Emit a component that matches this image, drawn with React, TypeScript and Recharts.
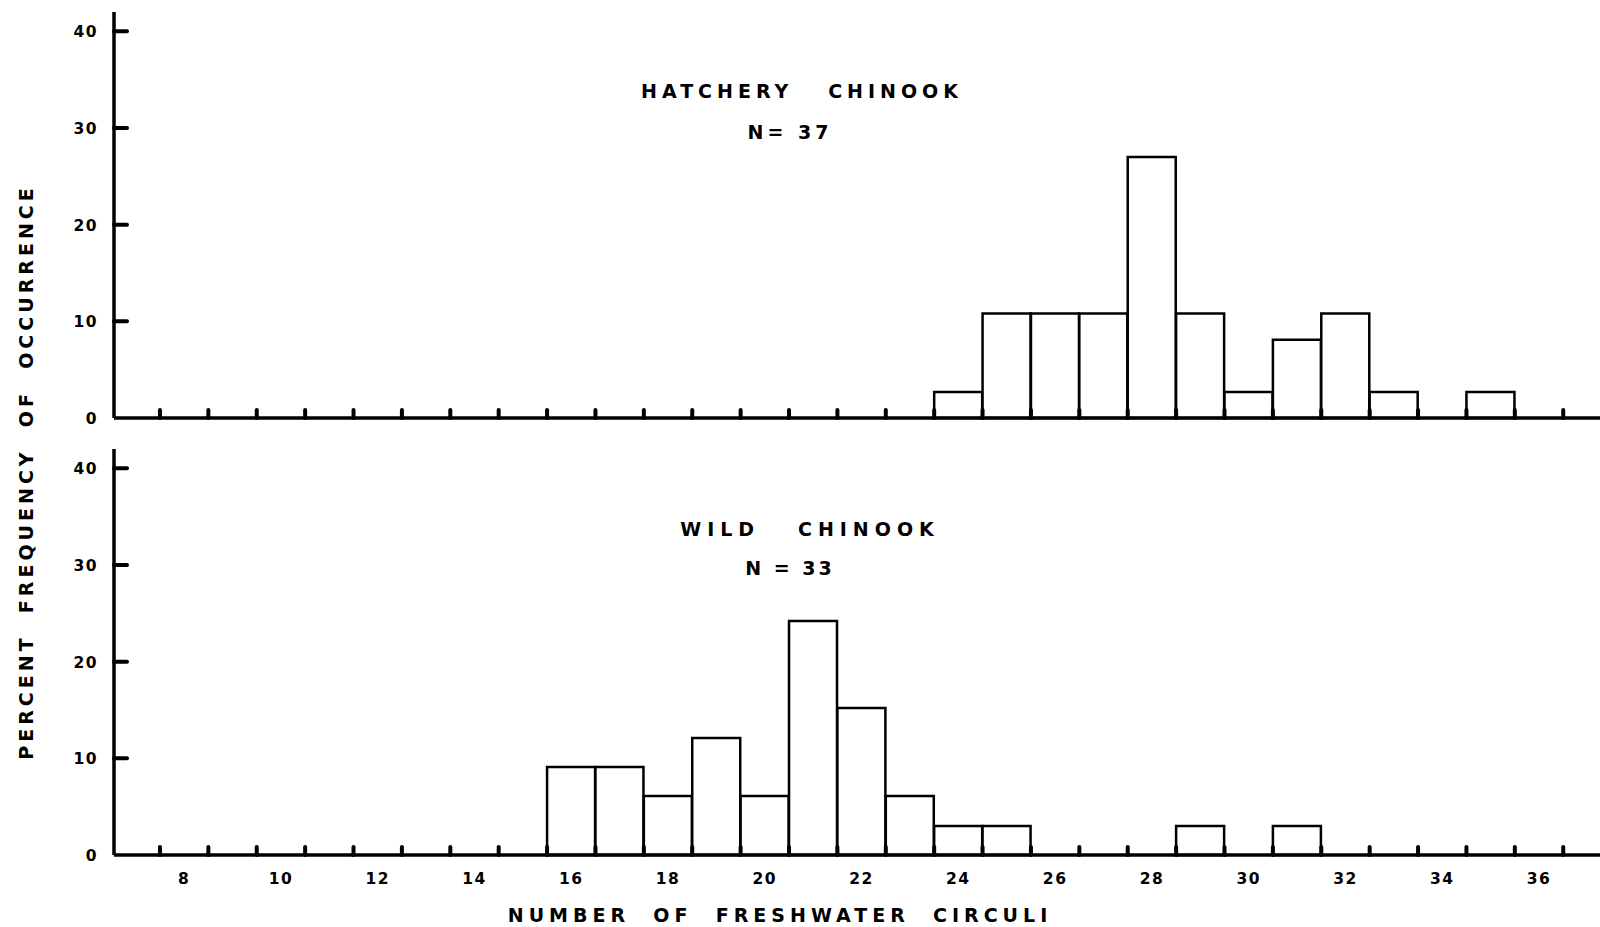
import React from "react"
import { BarChart, Bar, XAxis, YAxis } from "recharts"

// circuli counts (bin centres) and percent frequency per bin
const hatcheryCirculi = [24, 25, 26, 27, 28, 29, 30, 31, 32, 33, 34, 35]
const hatcheryPercent = [2.7, 10.8, 10.8, 10.8, 27.0, 10.8, 2.7, 8.1, 10.8, 2.7, 0, 2.7]

const wildCirculi = [16, 17, 18, 19, 20, 21, 22, 23, 24, 25, 26, 27, 28, 29, 30, 31]
const wildPercent = [9.1, 9.1, 6.1, 12.1, 6.1, 24.2, 15.2, 6.1, 3.0, 3.0, 0, 0, 0, 3.0, 0, 3.0]

// bin edges get a small upright tick, even counts get a label
const binEdges = [
  7.5, 8.5, 9.5, 10.5, 11.5, 12.5, 13.5, 14.5, 15.5, 16.5, 17.5, 18.5, 19.5, 20.5, 21.5,
  22.5, 23.5, 24.5, 25.5, 26.5, 27.5, 28.5, 29.5, 30.5, 31.5, 32.5, 33.5, 34.5, 35.5, 36.5,
]
const circuliLabels = [8, 10, 12, 14, 16, 18, 20, 22, 24, 26, 28, 30, 32, 34, 36]
const percentTicks = [0, 10, 20, 30, 40]

const X_DOMAIN: [number, number] = [6.55, 37.26]
const Y_DOMAIN: [number, number] = [0, 42]
const FONT = "'DejaVu Sans', sans-serif"

const XTick = ({ x, y, payload, showLabels }: any) => {
  const v = payload.value
  if (v % 1 !== 0) {
    return <line x1={x} x2={x} y1={y - 8} y2={y} stroke="#000" strokeWidth={4} strokeLinecap="round" />
  }
  if (!showLabels) return null
  return (
    <text x={x} y={y + 29} textAnchor="middle" fontFamily={FONT} fontWeight="bold" fontSize={15.5} fill="#000" letterSpacing={1.5}>
      {v}
    </text>
  )
}

const YTick = ({ x, y, payload }: any) => {
  const v = payload.value
  return (
    <g>
      {v > 0 && <line x1={x} x2={x + 13} y1={y} y2={y} stroke="#000" strokeWidth={4} strokeLinecap="round" />}
      <text x={x - 16} y={y + 6} textAnchor="end" fontFamily={FONT} fontWeight="bold" fontSize={15.5} fill="#000" letterSpacing={1.5}>
        {v}
      </text>
    </g>
  )
}

function Histogram({ circuli, percent, showLabels, height, top, marginTop, axisHeight }: any) {
  const data = circuli.map((c: number, i: number) => ({ c, p: percent[i] }))
  return (
    <div style={{ position: "absolute", left: 0, top }}>
      <BarChart
        width={1600}
        height={height}
        data={data}
        margin={{ top: marginTop, right: 0, left: 54, bottom: 0 }}
        barCategoryGap={0}
        barGap={0}
      >
        <XAxis
          type="number"
          dataKey="c"
          domain={X_DOMAIN}
          ticks={showLabels ? [...binEdges, ...circuliLabels] : binEdges}
          interval={0}
          height={axisHeight}
          tickLine={false}
          tickSize={0}
          tickMargin={0}
          axisLine={{ stroke: "#000", strokeWidth: 3.5 }}
          tick={<XTick showLabels={showLabels} />}
        />
        <YAxis
          type="number"
          domain={Y_DOMAIN}
          ticks={percentTicks}
          interval={0}
          width={60}
          tickLine={false}
          tickSize={0}
          tickMargin={0}
          axisLine={{ stroke: "#000", strokeWidth: 3.5 }}
          tick={<YTick />}
        />
        <Bar dataKey="p" fill="#fff" stroke="#000" strokeWidth={2.5} isAnimationActive={false} />
      </BarChart>
    </div>
  )
}

const Caption = ({ x, y, text, size = 19, spacing = 5, rotate = 0 }: any) => (
  <div
    style={{
      position: "absolute",
      left: x,
      top: y,
      transform: `translate(-50%, -50%) rotate(${rotate}deg)`,
      fontFamily: FONT,
      fontWeight: "bold",
      fontSize: size,
      letterSpacing: spacing,
      whiteSpace: "pre",
      color: "#000",
      lineHeight: 1,
    }}
  >
    {text}
  </div>
)

export default function App() {
  return (
    <div style={{ position: "fixed", left: 0, top: 0, width: 1600, height: 927, background: "#fff", overflow: "hidden" }}>
      <Histogram circuli={hatcheryCirculi} percent={hatcheryPercent} showLabels={false} top={0} height={428} marginTop={12} axisHeight={10} />
      <Histogram circuli={wildCirculi} percent={wildPercent} showLabels top={440} height={487} marginTop={9} axisHeight={72} />

      <Caption x={802} y={91} text={"HATCHERY   CHINOOK"} />
      <Caption x={790} y={132} spacing={4} text={"N= 37"} />
      <Caption x={810} y={529} spacing={6} text={"WILD   CHINOOK"} />
      <Caption x={790} y={568} spacing={3} text={"N = 33"} />

      <Caption x={780} y={915} size={19} spacing={5} text={"NUMBER  OF  FRESHWATER  CIRCULI"} />
      <Caption x={26} y={472} size={19} spacing={4} rotate={-90} text={"PERCENT  FREQUENCY  OF  OCCURRENCE"} />
    </div>
  )
}
